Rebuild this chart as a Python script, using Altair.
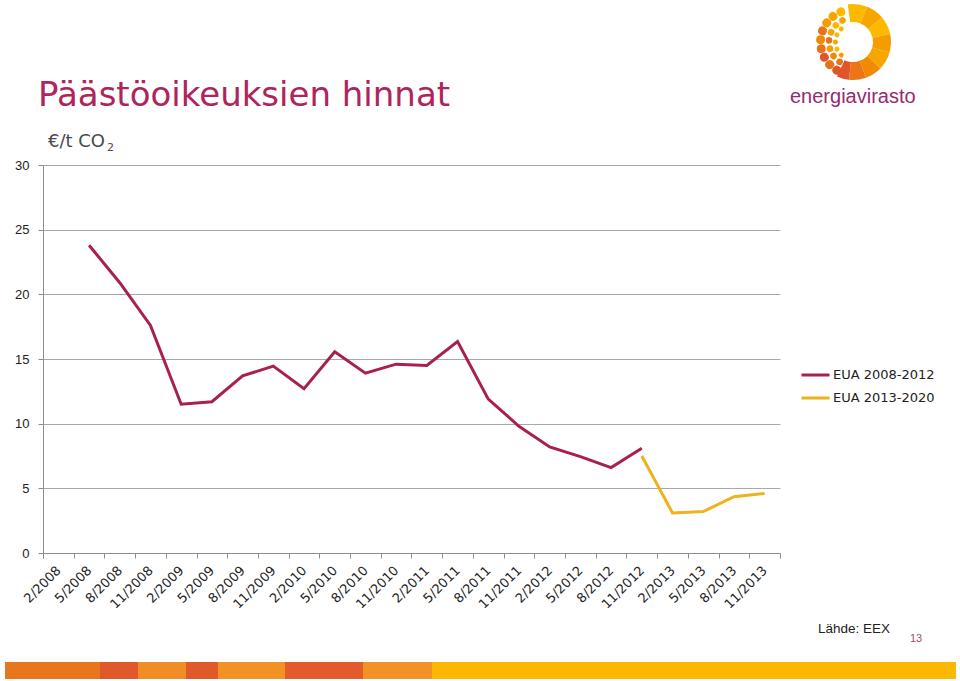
import altair as alt
import pandas as pd
import math

# ---------------- data ----------------
periods = ["2/2008", "5/2008", "8/2008", "11/2008", "2/2009", "5/2009", "8/2009", "11/2009",
           "2/2010", "5/2010", "8/2010", "11/2010", "2/2011", "5/2011", "8/2011", "11/2011",
           "2/2012", "5/2012", "8/2012", "11/2012", "2/2013", "5/2013", "8/2013", "11/2013"]
eua_2008_2012 = [None, 23.8, 20.9, 17.6, 11.5, 11.7, 13.7, 14.45, 12.7, 15.55, 13.9, 14.6,
                 14.5, 16.35, 11.9, 9.8, 8.2, 7.45, 6.6, 8.1, None, None, None, None]
eua_2013_2020 = [None] * 19 + [7.5, 3.1, 3.2, 4.35, 4.6]
series_names = ["EUA 2008-2012", "EUA 2013-2020"]
series_colors = ["#A8204F", "#EEB21C"]
y_ticks = [0, 5, 10, 15, 20, 25, 30]

title_text = "Päästöoikeuksien hinnat"
unit_text = "€/t CO"
unit_sub = "2"
source_text = "Lähde: EEX"
page_text = "13"
logo_text = "energiavirasto"

# decorative footer strip (pixel boundaries relative to plot origin) and colours
strip_edges = [-38, 57, 95, 143, 175, 242, 320, 389, 913]
strip_colors = ["#E8761C", "#E0592B", "#F08D25", "#E0592B", "#F29224", "#E35A2B", "#F29125", "#FBB800"]

# decorative logo: wedges (deg start, deg end, colour)
wedge_start = [-8, 22, 50, 78, 106, 134, 160, 186]
wedge_end = [22, 50, 78, 106, 134, 160, 186, 205]
wedge_colors = ["#FBBA00", "#F7A600", "#FBBA00", "#F59C00", "#F7A600", "#F08A00", "#EB7619", "#E2552B"]
dot_outer_deg = [210, 226, 242, 258, 274, 290, 306, 322, 338]
dot_outer_col = ["#E2552B", "#E8731C", "#E2552B", "#E8731C", "#F08A00", "#E8731C", "#F59C00", "#F7A600", "#FBBA00"]
dot_mid_deg = [214, 234, 254, 274, 294, 314, 334]
dot_mid_col = ["#E8731C", "#F08A00", "#F59C00", "#E8731C", "#F7A600", "#FBBA00", "#F7A600"]
dot_in_deg = [222, 246, 270, 294, 318]
dot_in_col = ["#F59C00", "#FBBA00", "#F7A600", "#FBBA00", "#FBBA00"]

# ---------------- tables ----------------
rows = []
for name, vals in zip(series_names, [eua_2008_2012, eua_2013_2020]):
    for p, v in zip(periods, vals):
        if v is not None:
            rows.append({"period": p, "value": v, "series": name})
df = pd.DataFrame(rows)

W, H = 737, 388
LEFT, TOP = 43, 165

x_enc = alt.X("period:N", sort=periods, bandPosition=0.5,
              scale=alt.Scale(type="band", domain=periods, paddingInner=0, paddingOuter=0),
              axis=alt.Axis(title=None, labelAngle=-45, labelAlign="right", labelBaseline="middle",
                            tickBand="extent", tickSize=5,
                            domainColor="#8C8C8C", tickColor="#8C8C8C", grid=False,
                            labelFont="DejaVu Sans", labelFontSize=13, labelColor="#222222",
                            labelPadding=10))
y_enc = alt.Y("value:Q", scale=alt.Scale(domain=[0, 30]),
              axis=alt.Axis(title=None, values=y_ticks, grid=True, gridColor="#A8A8A8",
                            domainColor="#8C8C8C", tickColor="#8C8C8C", tickSize=5,
                            labelPadding=9, labelFont="Liberation Sans", labelFontSize=13,
                            labelColor="#222222"))
color_enc = alt.Color("series:N", scale=alt.Scale(domain=series_names, range=series_colors),
                      legend=alt.Legend(title=None, orient="none", legendX=757, legendY=202,
                                        symbolType="stroke", symbolSize=784, symbolStrokeWidth=3,
                                        labelFont="DejaVu Sans", labelFontSize=13,
                                        labelColor="#222222", clipHeight=16, rowPadding=7,
                                        labelOffset=2, padding=0))

lines = alt.Chart(df).mark_line(strokeWidth=3).encode(x=x_enc, y=y_enc, color=color_enc)

one = pd.DataFrame({"a": [0]})


def label(text, x, y, size, color, font="Liberation Sans", align="left"):
    return alt.Chart(one).mark_text(text=text, font=font, fontSize=size, color=color,
                                    align=align, baseline="alphabetic").encode(
        x=alt.value(x), y=alt.value(y))


title = label(title_text, -5, -59, 34, "#B0245C", font="DejaVu Sans")
unit = label(unit_text, 5, -18, 18, "#4A4A4A", font="DejaVu Sans")
unit2 = label(unit_sub, 64, -14, 11, "#4A4A4A", font="DejaVu Sans")
source = label(source_text, 775, 468, 13.5, "#222222")
page = label(page_text, 867, 477, 11, "#9B4F6E")
logo_word = label(logo_text, 747, -62, 20, "#962A6E")

strip_df = pd.DataFrame({"x0": strip_edges[:-1], "x1": strip_edges[1:], "c": strip_colors})
strip = alt.Chart(strip_df).mark_rect().encode(
    x=alt.X("x0:Q", scale=None, axis=None), x2="x1:Q",
    y=alt.value(497), y2=alt.value(514),
    fill=alt.Fill("c:N", scale=None))

LX, LY = 810, -123
wedge_df = pd.DataFrame({"t0": [math.radians(a) for a in wedge_start],
                         "t1": [math.radians(a) for a in wedge_end],
                         "r0": [38] * len(wedge_start), "r1": [20] * len(wedge_start),
                         "c": wedge_colors})


def arc_layer(d, corner=0):
    return alt.Chart(d).mark_arc(cornerRadius=corner).encode(
        theta=alt.Theta("t0:Q", scale=None, stack=False), theta2="t1:Q",
        radius=alt.Radius("r0:Q", scale=None), radius2="r1:Q",
        fill=alt.Fill("c:N", scale=None),
        x=alt.value(LX), y=alt.value(LY))


def dots(degs, cols, r, s):
    w = 2 * s / r
    return pd.DataFrame({"t0": [math.radians(a) - w / 2 for a in degs],
                         "t1": [math.radians(a) + w / 2 for a in degs],
                         "r0": [r + s] * len(degs), "r1": [r - s] * len(degs), "c": cols})


logo = [arc_layer(wedge_df),
        arc_layer(dots(dot_outer_deg, dot_outer_col, 32.5, 4.4), 4),
        arc_layer(dots(dot_mid_deg, dot_mid_col, 24, 3.3), 3),
        arc_layer(dots(dot_in_deg, dot_in_col, 17.5, 2.4), 2)]

chart = alt.layer(lines, title, unit, unit2, source, page, logo_word, strip, *logo).properties(
    width=W, height=H,
    padding={"left": LEFT, "top": TOP, "right": 960 - LEFT - W, "bottom": 681 - TOP - H},
    autosize=alt.AutoSizeParams(type="none"),
    background="white",
).configure_view(strokeOpacity=0)

chart.save("out.html", embed_options={"renderer": "svg", "actions": False})
